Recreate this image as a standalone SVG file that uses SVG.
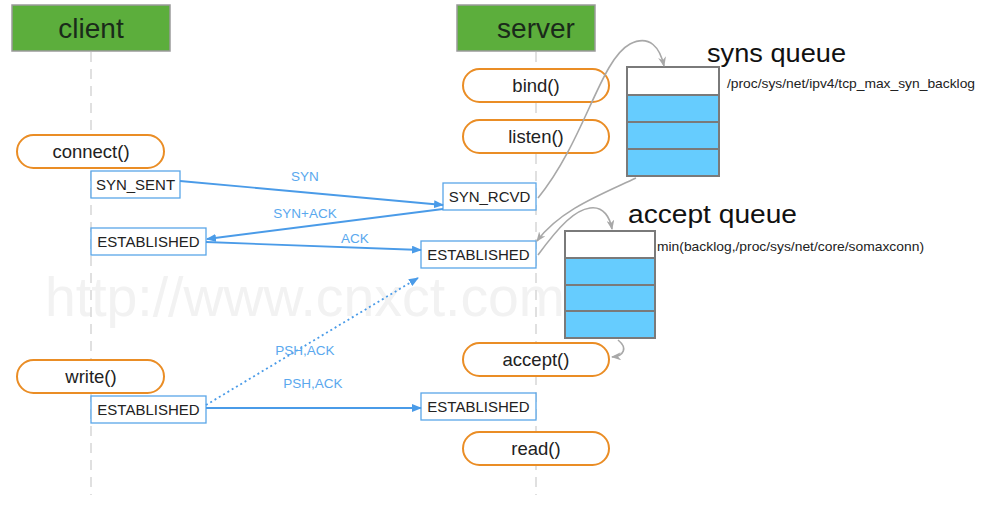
<svg xmlns="http://www.w3.org/2000/svg" width="1007" height="508" viewBox="0 0 1007 508">
<style>
text{font-family:"Liberation Sans",Arial,sans-serif;}
.hdr{fill:#5cae3c;stroke:#9a9a9a;stroke-width:1.5}
.hdrt{font-size:28px;fill:#1a2a1a;text-anchor:middle}
.pill{fill:#fff;stroke:#ea8d25;stroke-width:2}
.pillt{font-size:18.5px;fill:#222;text-anchor:middle}
.st{fill:#fff;stroke:#5aa6e8;stroke-width:1.3}
.stt{font-size:15px;fill:#222;text-anchor:middle}
.life{stroke:#d6d6d6;stroke-width:1.5;stroke-dasharray:10 7;fill:none}
.msg{stroke:#4a9be8;stroke-width:1.8;fill:none}
.lbl{font-size:13.5px;fill:#5aa8ee;text-anchor:middle}
.cur{stroke:#a8a8a8;stroke-width:1.6;fill:none}
.qw{fill:#fff;stroke:#7a7a7a;stroke-width:2}
.qb{fill:#66ccfe;stroke:#7a7a7a;stroke-width:2}
.qt{font-size:26px;fill:#111}
.pt{font-size:13px;fill:#222}
</style>
<defs>
<marker id="ab" markerWidth="10" markerHeight="8" refX="9" refY="4" orient="auto" markerUnits="userSpaceOnUse">
<path d="M0,0 L10,4 L0,8 Z" fill="#4a9be8"/>
</marker>
<marker id="ag" markerWidth="10" markerHeight="8" refX="9" refY="4" orient="auto" markerUnits="userSpaceOnUse">
<path d="M0,0 L10,4 L0,8 L3,4 Z" fill="#a8a8a8"/>
</marker>
</defs>
<rect width="1007" height="508" fill="#fff"/>
<text x="45" y="316" textLength="520" lengthAdjust="spacingAndGlyphs" style="font-size:55px;fill:#f2f2f2">http://www.cnxct.com</text>

<g id="lifelines">
<line class="life" x1="91" y1="52" x2="91" y2="495"/>
<line class="life" x1="536" y1="52" x2="536" y2="495"/>
</g>

<g id="client"><rect class="hdr" x="12" y="5" width="158" height="46"/><text class="hdrt" x="91" y="38">client</text></g>
<g id="server"><rect class="hdr" x="457" y="5" width="138" height="46"/><text class="hdrt" x="536" y="38">server</text></g>

<g id="bind"><rect class="pill" x="463" y="69" width="146" height="33" rx="16.5"/><text class="pillt" x="536" y="92">bind()</text></g>
<g id="listen"><rect class="pill" x="463" y="120" width="146" height="33" rx="16.5"/><text class="pillt" x="536" y="143">listen()</text></g>
<g id="connect"><rect class="pill" x="17" y="135" width="147" height="33" rx="16.5"/><text class="pillt" x="91" y="158">connect()</text></g>
<g id="accept"><rect class="pill" x="463" y="343" width="146" height="33" rx="16.5"/><text class="pillt" x="536" y="366">accept()</text></g>
<g id="write"><rect class="pill" x="17" y="360" width="147" height="33" rx="16.5"/><text class="pillt" x="91" y="383">write()</text></g>
<g id="read"><rect class="pill" x="463" y="432" width="146" height="33" rx="16.5"/><text class="pillt" x="536" y="455">read()</text></g>

<g id="syn_sent"><rect class="st" x="91" y="171" width="89" height="27"/><text class="stt" x="135.5" y="190">SYN_SENT</text></g>
<g id="syn_rcvd"><rect class="st" x="443" y="183" width="93" height="27"/><text class="stt" x="489.5" y="202">SYN_RCVD</text></g>
<g id="c_est1"><rect class="st" x="91" y="228" width="115" height="27"/><text class="stt" x="148.5" y="247">ESTABLISHED</text></g>
<g id="s_est1"><rect class="st" x="421" y="241" width="115" height="27"/><text class="stt" x="478.5" y="260">ESTABLISHED</text></g>
<g id="c_est2"><rect class="st" x="91" y="396" width="115" height="27"/><text class="stt" x="148.5" y="415">ESTABLISHED</text></g>
<g id="s_est2"><rect class="st" x="421" y="393" width="115" height="27"/><text class="stt" x="478.5" y="412">ESTABLISHED</text></g>

<g id="syns_queue">
<text class="qt" x="707" y="62" textLength="139" lengthAdjust="spacingAndGlyphs">syns queue</text>
<rect class="qw" x="627" y="67" width="92" height="28"/>
<rect class="qb" x="627" y="95" width="92" height="27"/>
<rect class="qb" x="627" y="122" width="92" height="27"/>
<rect class="qb" x="627" y="149" width="92" height="27"/>
<text class="pt" x="727" y="88" textLength="248" lengthAdjust="spacingAndGlyphs">/proc/sys/net/ipv4/tcp_max_syn_backlog</text>
</g>
<g id="accept_queue">
<text class="qt" x="628" y="223" textLength="169" lengthAdjust="spacingAndGlyphs">accept queue</text>
<rect class="qw" x="565" y="231" width="90" height="27"/>
<rect class="qb" x="565" y="258" width="90" height="27"/>
<rect class="qb" x="565" y="285" width="90" height="26"/>
<rect class="qb" x="565" y="311" width="90" height="27"/>
<text class="pt" x="657" y="251" textLength="267" lengthAdjust="spacingAndGlyphs">min(backlog,/proc/sys/net/core/somaxconn)</text>
</g>

<g id="connectors">
<line class="msg" x1="180" y1="181" x2="443" y2="205" marker-end="url(#ab)"/>
<line class="msg" x1="443" y1="209" x2="207" y2="239" marker-end="url(#ab)"/>
<line class="msg" x1="206" y1="242" x2="421" y2="250" marker-end="url(#ab)"/>
<line class="msg" x1="206" y1="405" x2="418" y2="278" stroke-dasharray="2 3" marker-end="url(#ab)"/>
<line class="msg" x1="206" y1="408" x2="421" y2="408" marker-end="url(#ab)"/>
<text class="lbl" x="305" y="181">SYN</text>
<text class="lbl" x="305" y="218">SYN+ACK</text>
<text class="lbl" x="355" y="243">ACK</text>
<text class="lbl" x="305" y="355">PSH,ACK</text>
<text class="lbl" x="313" y="388">PSH,ACK</text>
<path class="cur" d="M538,198 C585,140 600,60 630,44 C650,34 660,48 664,66" marker-end="url(#ag)"/>
<path class="cur" d="M636,178 C600,195 560,210 537,241" marker-end="url(#ag)"/>
<path class="cur" d="M538,255 C560,225 575,210 590,208 C604,206 610,218 612,229" marker-end="url(#ag)"/>
<path class="cur" d="M618,340 C628,348 624,356 612,357" marker-end="url(#ag)"/>
</g>
</svg>
